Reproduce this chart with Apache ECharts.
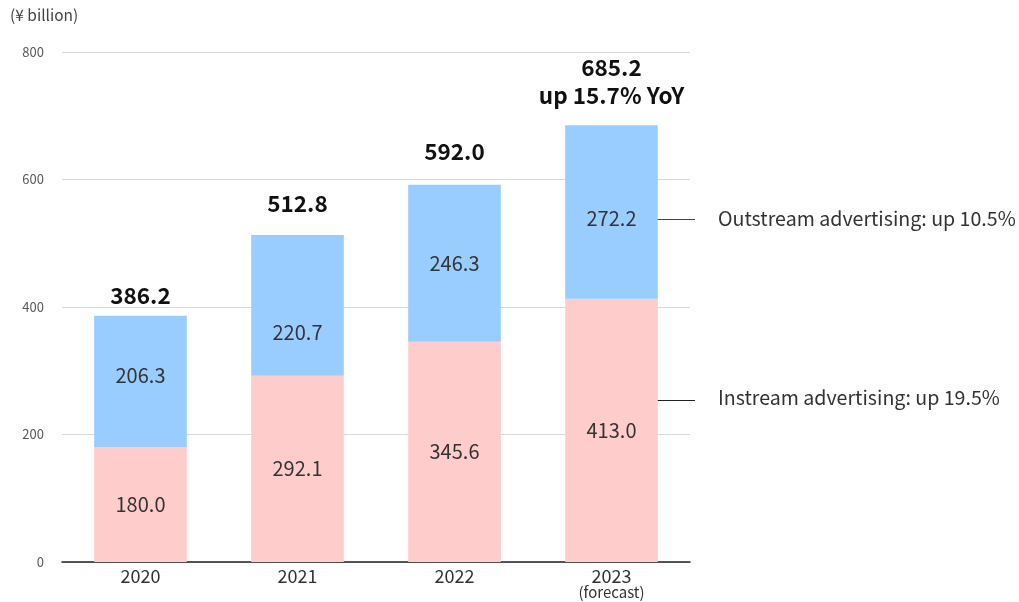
<!DOCTYPE html>
<html><head><meta charset="utf-8">
<script src="https://cdn.jsdelivr.net/npm/echarts@6/dist/echarts.min.js"></script>
<style>html,body{margin:0;padding:0;background:#fff}#c{width:1019px;height:602px}</style>
</head><body><div id="c"></div>
<script>
const categories = ['2020', '2021', '2022', '2023\n{f|(forecast)}'];
const instream = [180.0, 292.1, 345.6, 413.0];
const outstream = [206.3, 220.7, 246.3, 272.2];
const totals = [386.2, 512.8, 592.0, 685.2];
const totalNotes = ['', '', '', 'up 15.7% YoY'];
const yTicks = [0, 200, 400, 600, 800];
const unitLabel = '(¥ billion)';
const outLabel = 'Outstream advertising: up 10.5%';
const inLabel = 'Instream advertising: up 19.5%';

const FONT = '"Noto Sans CJK JP","Noto Sans",sans-serif';
const totalDist = [6, 18, 19, 16];
const outOffsets = [[0, -6], [0, 27], [0, 0], [0, 6]];

const chart = echarts.init(document.getElementById('c'));
chart.setOption({
  animation: false,
  textStyle: {fontFamily: FONT},
  grid: {left: 62, right: 329, top: 52, bottom: 40},
  xAxis: {
    type: 'category', data: categories,
    axisLine: {lineStyle: {color: '#222', width: 1.5}},
    axisTick: {show: false},
    axisLabel: {color: '#333', fontSize: 18, margin: 6, lineHeight: 17, fontFamily: FONT,
      rich: {f: {fontSize: 15, color: '#333', lineHeight: 15, fontFamily: FONT}}}
  },
  yAxis: {
    type: 'value', min: yTicks[0], max: yTicks[yTicks.length - 1], interval: 200,
    axisLine: {show: false}, axisTick: {show: false},
    axisLabel: {color: '#595959', fontSize: 13, margin: 18, fontFamily: FONT},
    splitLine: {lineStyle: {color: '#d9d9d9', width: 1}}
  },
  series: [
    {
      name: 'Instream', type: 'bar', stack: 's', barWidth: '59%',
      itemStyle: {color: '#FFCCCC'},
      label: {show: true, position: 'inside', color: '#333', fontSize: 20, fontFamily: FONT,
        formatter: p => p.value.toFixed(1)},
      data: instream
    },
    {
      name: 'Outstream', type: 'bar', stack: 's', barWidth: '59%',
      itemStyle: {color: '#99CCFF'},
      data: outstream.map((v, i) => ({
        value: v,
        label: {show: true, position: 'inside', offset: outOffsets[i], color: '#333', fontSize: 20,
          fontFamily: FONT, formatter: p => p.value.toFixed(1)}
      }))
    },
    {
      name: 'Total', type: 'bar', stack: 's', barWidth: '59%',
      itemStyle: {color: 'transparent'},
      silent: true,
      data: totals.map((t, i) => ({
        value: 0,
        label: {show: true, position: 'top', distance: totalDist[i], color: '#111', fontSize: 22.5,
          fontWeight: 'bold', lineHeight: 28, fontFamily: FONT,
          formatter: () => totals[i].toFixed(1) + (totalNotes[i] ? '\n' + totalNotes[i] : '')}
      }))
    }
  ],
  graphic: [
    {type: 'text', left: 10, top: 7, style: {text: unitLabel, fill: '#444', fontSize: 15.5, fontFamily: FONT}},
    {type: 'line', shape: {x1: 657, y1: 219.5, x2: 695, y2: 219.5}, style: {stroke: '#444', lineWidth: 1}},
    {type: 'line', shape: {x1: 655, y1: 400.5, x2: 695, y2: 400.5}, style: {stroke: '#222', lineWidth: 1}},
    {type: 'text', x: 718, y: 219, style: {text: outLabel, fill: '#333', fontSize: 19.6, fontFamily: FONT, verticalAlign: 'middle'}},
    {type: 'text', x: 718, y: 398, style: {text: inLabel, fill: '#333', fontSize: 19.6, fontFamily: FONT, verticalAlign: 'middle'}}
  ]
});
</script></body></html>
